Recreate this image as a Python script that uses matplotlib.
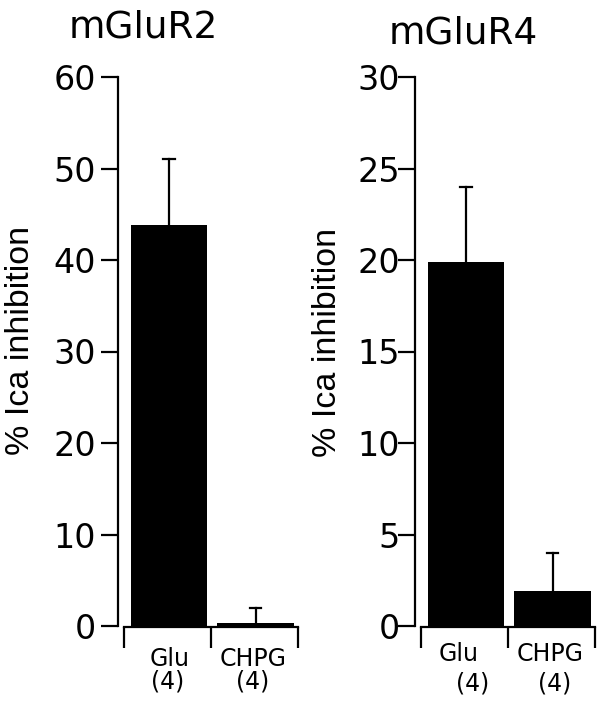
import matplotlib.pyplot as plt
from matplotlib.transforms import offset_copy

plt.rcParams['font.family'] = ['DejaVu Sans']

groups = ['Glu', 'CHPG']
counts = ['(4)', '(4)']
mglur2_mean = [43.8, 0.3]
mglur2_err = [7.2, 1.7]
mglur4_mean = [19.9, 1.9]
mglur4_err = [4.1, 2.1]

fig = plt.figure(figsize=(6, 7.1), dpi=100)
W, H = 600.0, 710.0


def panel(left_px, ymax, yticks, means, errs, title, title_x, title_y,
          ylab_x, ylab_y, tick_pad, name_dx, count_dx, name_dy, count_dy):
    ax = fig.add_axes([left_px / W, 1 - 626 / H, 180 / W, (626 - 77) / H])
    ax.set_xlim(-6 / 87.0, 2.0 + 0.5 / 87)
    ax.set_ylim(0, ymax)
    centers = [0.52, 1.52]
    ax.bar(centers, means, width=0.885, color='black', zorder=2)
    for c, m, e in zip(centers, means, errs):
        ax.plot([c, c], [m, m + e], color='black', lw=1.6, zorder=1)
        ax.plot([c - 0.065, c + 0.065], [m + e, m + e], color='black', lw=1.6)
    for s in ['top', 'right']:
        ax.spines[s].set_visible(False)
    ax.spines['left'].set_bounds(0, ymax)
    ax.spines['bottom'].set_bounds(0, 2)
    ax.spines['bottom'].set_position(('outward', 1))
    ax.spines['left'].set_linewidth(1.6)
    ax.spines['bottom'].set_linewidth(1.6)
    ax.set_yticks(yticks)
    ax.tick_params(axis='y', length=12, width=1.6, labelsize=24, pad=tick_pad)
    ax.set_xticks([0, 1, 2])
    ax.set_xticklabels([])
    ax.tick_params(axis='x', length=15, width=1.6, direction='out')
    for i, c in enumerate(centers):
        tr1 = offset_copy(ax.transData, fig=fig, x=name_dx[i], y=name_dy, units='dots')
        ax.text(c, 0, groups[i], transform=tr1, ha='center', va='top', fontsize=17)
        tr2 = offset_copy(ax.transData, fig=fig, x=count_dx[i], y=count_dy, units='dots')
        ax.text(c, 0, counts[i], transform=tr2, ha='center', va='top', fontsize=17)
    fig.text(ylab_x / W, 1 - ylab_y / H, '% Ica inhibition', rotation=90,
             ha='center', va='center', fontsize=24.5, family=['Liberation Sans'])
    fig.text(title_x / W, 1 - title_y / H, title, ha='center', va='baseline', fontsize=27)
    return ax


panel(118, 60, [0, 10, 20, 30, 40, 50, 60], mglur2_mean, mglur2_err, 'mGluR2', 143, 38,
      21, 340, 4, [1, -3], [-1, -3], -21, -43)
panel(415, 30, [0, 5, 10, 15, 20, 25, 30], mglur4_mean, mglur4_err, 'mGluR4', 463, 43,
      328, 342, -1, [-7, -3], [7, 2], -16, -46)

fig.savefig('out.png', dpi=100)
